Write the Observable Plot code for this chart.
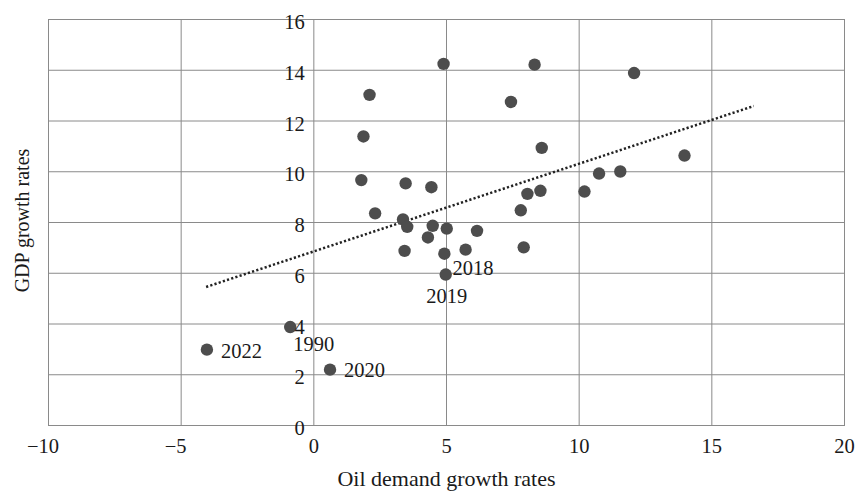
<!DOCTYPE html>
<html>
<head>
<meta charset="utf-8">
<script src="https://cdn.jsdelivr.net/npm/d3@7"></script>
<script src="https://cdn.jsdelivr.net/npm/@observablehq/plot@0.6"></script>
<style>
  body { margin: 0; background: #fff; }
  svg { display: block; }
</style>
</head>
<body>
<div id="chart"></div>
<script>
// Annual growth rates: oil demand (x) vs GDP (y), in percent
const oilDemand = [
  4.89, 8.32, 2.10, 7.43, 1.87, 8.59, 1.79, 3.46, 4.43, 8.05, 8.54,
  2.31, 7.80, 3.36, 3.52, 4.48, 5.01, 6.15, 4.30, 3.42, 4.92, 5.72,
  7.91, 4.97, 12.07, 13.97, 10.75, 11.55, 10.20, -4.03, -0.89, 0.61
];
const gdpGrowth = [
  14.25, 14.22, 13.03, 12.75, 11.39, 10.94, 9.67, 9.54, 9.39, 9.13, 9.25,
  8.36, 8.48, 8.12, 7.83, 7.87, 7.76, 7.67, 7.41, 6.88, 6.77, 6.93,
  7.02, 5.95, 13.89, 10.64, 9.93, 10.01, 9.22, 2.99, 3.88, 2.20
];

// Annotated years
const labelYears = ["2022", "1990", "2020", "2018", "2019"];
const labelOil = [-4.03, -0.89, 0.61, 4.92, 4.97];
const labelGdp = [2.99, 3.88, 2.20, 6.77, 5.95];

// Linear trend line end points
const trendOil = [-4.06, 16.58];
const trendGdp = [5.46, 12.59];

const xTicks = [-10, -5, 0, 5, 10, 15, 20];
const yTicks = [0, 2, 4, 6, 8, 10, 12, 14, 16];

const points = oilDemand.map((x, i) => ({x, y: gdpGrowth[i]}));
const trend = trendOil.map((x, i) => ({x, y: trendGdp[i]}));
const labels = labelYears.map((t, i) => ({t, x: labelOil[i], y: labelGdp[i]}));

// label placement around each annotated dot
const labelPlacement = {
  "2022": {dx: 14, dy: 2, textAnchor: "start"},
  "1990": {dx: 3, dy: 17, textAnchor: "start"},
  "2020": {dx: 14, dy: 1, textAnchor: "start"},
  "2018": {dx: 8, dy: 15, textAnchor: "start"},
  "2019": {dx: 1, dy: 22, textAnchor: "middle"}
};

const gridColor = "#8a8a8a";
const inkColor = "#1a1a1a";

const chart = Plot.plot({
  width: 855,
  height: 492,
  marginLeft: 48,
  marginRight: 11,
  marginTop: 19,
  marginBottom: 67,
  x: {domain: [-10, 20], axis: null},
  y: {domain: [0, 16], axis: null},
  style: {
    fontFamily: "'Liberation Serif', 'Times New Roman', serif",
    fontSize: "20.5px",
    background: "#fff",
    color: inkColor
  },
  marks: [
    Plot.ruleX(xTicks, {stroke: gridColor, strokeWidth: 1}),
    Plot.ruleY(yTicks, {stroke: gridColor, strokeWidth: 1}),
    Plot.frame({stroke: gridColor, strokeWidth: 1}),
    Plot.line(trend, {
      x: "x", y: "y",
      stroke: "#222",
      strokeWidth: 2.5,
      strokeLinecap: "butt",
      strokeDasharray: "2.2,2.2"
    }),
    Plot.dot(points, {x: "x", y: "y", r: 6.2, fill: "#4d4d4d", stroke: "none"}),
    ...labels.map(d => Plot.text([d], {
      x: "x", y: "y", text: "t",
      fill: inkColor,
      ...labelPlacement[d.t]
    })),
    // y tick labels sit along the zero line
    Plot.text(yTicks, {
      x: () => 0, y: d => d, text: d => String(d),
      textAnchor: "end", dx: -9, dy: 3, fill: inkColor
    }),
    // x tick labels; the minus sign hangs left of the digits
    Plot.text(xTicks.filter(d => d < 0), {
      x: d => d, frameAnchor: "bottom", text: d => "\u2212" + Math.abs(d),
      dy: 27.5, dx: -5.5, fill: inkColor
    }),
    Plot.text(xTicks.filter(d => d >= 0), {
      x: d => d, frameAnchor: "bottom", text: d => String(d),
      dy: 27.5, fill: inkColor
    }),
    Plot.text(["Oil demand growth rates"], {
      frameAnchor: "bottom", text: d => d, dy: 60, fontSize: 22, fill: inkColor
    }),
    Plot.text(["GDP growth rates"], {
      frameAnchor: "left", textAnchor: "middle", text: d => d,
      rotate: -90, dx: -26, dy: -2, fontSize: 20, fill: inkColor
    })
  ]
});

document.getElementById("chart").appendChild(chart);
</script>
</body>
</html>
